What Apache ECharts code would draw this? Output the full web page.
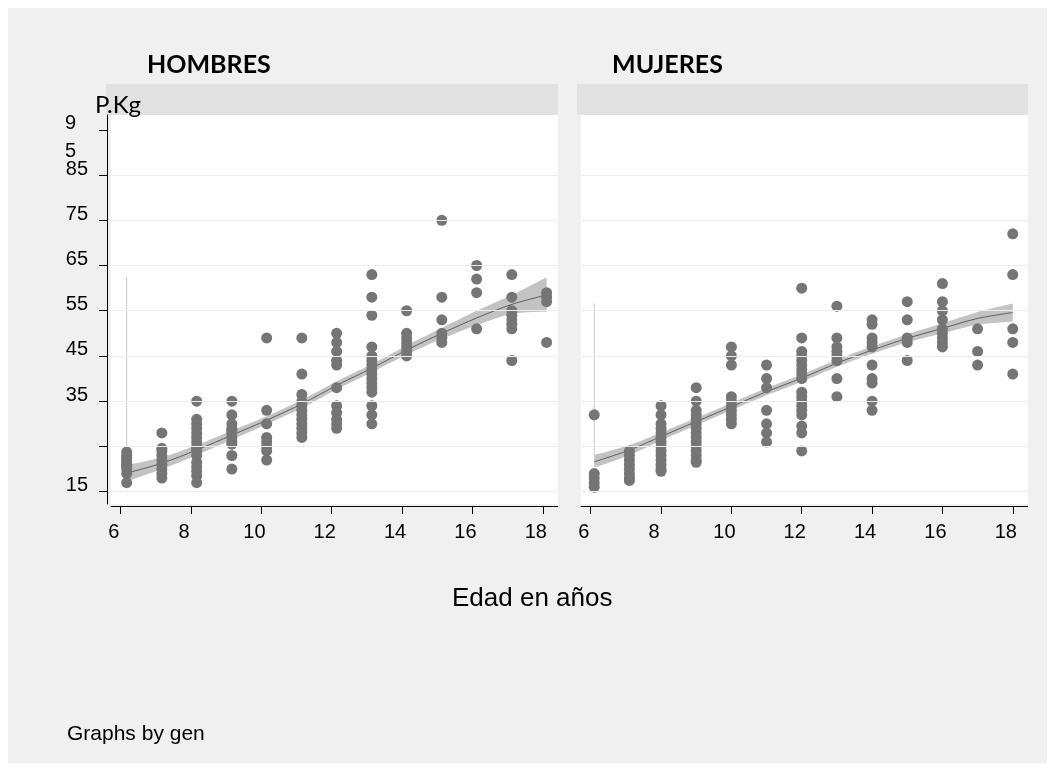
<!DOCTYPE html>
<html>
<head>
<meta charset="utf-8">
<title>Peso por edad según sexo</title>
<script src="https://cdn.jsdelivr.net/npm/echarts@6/dist/echarts.min.js"></script>
<style>
  html, body { margin: 0; padding: 0; background: #ffffff; }
  #chart { width: 1055px; height: 771px; }
</style>
</head>
<body>
<div id="chart"></div>
<script>
// Axis ticks and labels
const xTicks = [6, 8, 10, 12, 14, 16, 18];
const yTicks = [15, 25, 35, 45, 55, 65, 75, 85, 95];
const yLabelValues = [15, 35, 45, 55, 65, 75, 85];
const yTopLabelValue = [95];
const yGridValues = [15, 25, 35, 45, 55, 65, 75, 85];

// HOMBRES: age of each column and the weights (kg) observed at that age
const hombresEdad = [6.17, 7.17, 8.16, 9.16, 10.15, 11.15, 12.14, 13.14, 14.13, 15.13, 16.12, 17.12, 18.11];
const hombresPeso = [
  [17, 19, 20, 20.5, 21, 21.5, 22, 22.5, 23, 23.8],
  [18, 19, 20, 21, 22, 23, 24, 24.6, 28],
  [35, 31, 30, 29, 28, 27, 26, 25, 24.5, 24, 23, 21.5, 20.5, 19.5, 18.5, 17],
  [35, 32, 30, 29, 28.5, 28, 27, 26, 25.5, 23, 20],
  [49, 33, 30, 27, 26, 25, 24, 22],
  [49, 41, 36.5, 35, 34, 33, 32, 31, 30, 29, 28, 27],
  [50, 48, 46, 44, 43, 38, 34, 32.5, 31, 30, 29],
  [63, 58, 54, 47, 45, 44, 43, 42, 41, 40, 39, 38, 37, 34, 32, 30],
  [55, 50, 49, 48, 47, 46, 45],
  [75, 58, 53, 50, 49, 48],
  [65, 62, 59, 51],
  [63, 58, 55, 54, 53, 52, 51, 44],
  [59, 58, 57, 48]
];
// HOMBRES: local polynomial fit and its confidence band
const hombresAjuste = [19.1, 21.3, 24.2, 27.5, 30.8, 34.4, 38.5, 42.3, 46.3, 50.0, 53.4, 56.4, 58.5];
const hombresIcBajo = [17.3, 20.0, 23.1, 26.5, 29.9, 33.5, 37.6, 41.4, 45.3, 48.8, 51.8, 54.3, 54.8];
const hombresIcAlto = [20.9, 22.6, 25.3, 28.5, 31.7, 35.3, 39.4, 43.2, 47.3, 51.2, 55.0, 58.5, 62.4];
const hombresLineaIc = [20.9, 62.4];

// MUJERES
const mujeresEdad = [6.1, 7.1, 8, 9, 10, 11, 12, 13, 14, 15, 16, 17, 18];
const mujeresPeso = [
  [32, 19, 18, 17, 16],
  [24, 23, 22, 21, 20, 19, 18, 17.5],
  [34, 32, 30, 29, 28, 27, 26, 25, 24, 23, 22, 21, 20, 19.5],
  [38, 35, 33, 32, 31, 30, 29, 28, 27, 26, 25, 24, 23, 22, 21.5],
  [47, 45, 43, 36, 35, 34, 33, 32, 31, 30],
  [43, 40, 38, 33, 30, 28, 26],
  [60, 49, 46, 45, 44, 43, 42, 41, 40, 37, 36, 35, 34, 33, 32, 29.5, 28, 24],
  [56, 49, 47, 46, 45, 44, 40, 36],
  [53, 52, 49, 48, 47, 43, 40, 39, 35, 33],
  [57, 53, 49, 48, 44],
  [61, 57, 55, 53, 51, 50, 49, 48, 47],
  [51, 46, 43],
  [72, 63, 51, 48, 41]
];
const mujeresAjuste = [21.6, 24.2, 27.2, 30.5, 33.8, 37.1, 40.1, 43.4, 46.3, 48.9, 51.1, 53.3, 54.6];
const mujeresIcBajo = [20.3, 23.1, 26.3, 29.7, 33.0, 36.3, 39.3, 42.6, 45.5, 48.0, 50.0, 51.9, 52.6];
const mujeresIcAlto = [23.1, 25.3, 28.1, 31.3, 34.6, 37.9, 40.9, 44.2, 47.1, 49.8, 52.2, 54.7, 56.6];
const mujeresLineaIc = [23.1, 56.6];

const panelTitles = ['HOMBRES', 'MUJERES'];
const yTitle = 'P.Kg';
const xTitle = 'Edad en años';
const note = 'Graphs by gen';

// Axis ranges of the plot regions
const X_MIN = 5.724, X_MAX = 18.425;
const Y_MIN = 12.28, Y_MAX = 98.27;

const FONT = "'Liberation Sans', Arial, sans-serif";
const TITLE_FONT = "Lato, 'Open Sans', sans-serif";
const INK = '#000000';
const DOT = '#757575';
const FIT = '#5c5c5c';
const BAND = '#c3c3c3';

function points(edades, pesos) {
  const out = [];
  edades.forEach((x, i) => pesos[i].forEach(y => out.push([x, y])));
  return out;
}
function pairs(xs, ys) { return xs.map((x, i) => [x, ys[i]]); }

// Catmull-Rom pass over pixel points so the band edges are drawn as smooth curves
function smoothPath(pts, steps) {
  const out = [];
  for (let i = 0; i < pts.length - 1; i++) {
    const p0 = pts[Math.max(i - 1, 0)], p1 = pts[i], p2 = pts[i + 1], p3 = pts[Math.min(i + 2, pts.length - 1)];
    for (let s = 0; s < steps; s++) {
      const t = s / steps, t2 = t * t, t3 = t2 * t;
      const f = (a, b, c, d) => 0.5 * ((2 * b) + (-a + c) * t + (2 * a - 5 * b + 4 * c - d) * t2 + (-a + 3 * b - 3 * c + d) * t3);
      out.push([f(p0[0], p1[0], p2[0], p3[0]), f(p0[1], p1[1], p2[1], p3[1])]);
    }
  }
  out.push(pts[pts.length - 1]);
  return out;
}

function panelSeries(idx, edades, pesos, ajuste, lo, hi, lineaIc) {
  return [
    {
      // horizontal grid lines
      type: 'line', xAxisIndex: idx, yAxisIndex: idx, z: 1, data: [],
      symbol: 'none', silent: true,
      markLine: {
        silent: true, symbol: 'none', label: { show: false }, animation: false,
        lineStyle: { color: '#ececec', width: 1, type: 'solid' },
        data: yGridValues.map(v => ({ yAxis: v }))
      }
    },
    {
      // confidence band
      type: 'custom', xAxisIndex: idx, yAxisIndex: idx, z: 2, silent: true,
      data: edades.map((x, i) => [x, lo[i], hi[i]]),
      encode: { x: 0, y: [1, 2] },
      renderItem: function (params, api) {
        if (params.dataIndex !== 0) return null;
        const top = smoothPath(edades.map((x, i) => api.coord([x, hi[i]])), 8);
        const bottom = smoothPath(edades.map((x, i) => api.coord([x, lo[i]])), 8).reverse();
        return { type: 'polygon', shape: { points: top.concat(bottom) }, style: { fill: BAND } };
      }
    },
    {
      type: 'line', xAxisIndex: idx, yAxisIndex: idx, z: 2,
      data: [[edades[0], lineaIc[0]], [edades[0], lineaIc[1]]],
      symbol: 'none', silent: true,
      lineStyle: { color: '#c8c8c8', width: 1 }
    },
    {
      type: 'line', xAxisIndex: idx, yAxisIndex: idx, z: 3,
      data: pairs(edades, ajuste), smooth: 0.3,
      symbol: 'none', silent: true,
      lineStyle: { color: FIT, width: 1 }
    },
    {
      type: 'scatter', xAxisIndex: idx, yAxisIndex: idx, z: 4,
      data: points(edades, pesos),
      symbol: 'circle', symbolSize: 11,
      itemStyle: { color: DOT, opacity: 1 }
    }
  ];
}

function xAxisFor(idx) {
  return {
    type: 'value', gridIndex: idx, min: X_MIN, max: X_MAX, offset: 2,
    axisLine: { show: true, onZero: false, lineStyle: { color: INK, width: 1 } },
    axisTick: { show: true, customValues: xTicks, length: 8, lineStyle: { color: INK, width: 1 } },
    axisLabel: {
      show: true, customValues: xTicks, margin: 16, padding: [0, 14, 0, 0],
      fontFamily: FONT, fontSize: 20, color: INK
    },
    splitLine: { show: false }
  };
}

const labelRich = {
  d: { fontFamily: FONT, fontSize: 20, color: INK, lineHeight: 28 }
};

const yAxes = [
  {
    type: 'value', gridIndex: 0, min: Y_MIN, max: Y_MAX, offset: 4,
    axisLine: { show: true, onZero: false, lineStyle: { color: INK, width: 1 } },
    axisTick: { show: true, customValues: yTicks, length: 8, lineStyle: { color: INK, width: 1 } },
    axisLabel: {
      show: true, customValues: yLabelValues, margin: 19,
      padding: [0, 0, 12, 0], lineHeight: 28,
      fontFamily: FONT, fontSize: 20, color: INK,
      formatter: v => String(v),
      rich: labelRich
    },
    splitLine: { show: false }
  },
  {
    type: 'value', gridIndex: 1, min: Y_MIN, max: Y_MAX,
    axisLine: { show: false }, axisTick: { show: false },
    axisLabel: { show: false }, splitLine: { show: false }
  },
  {
    // the top label wraps onto two lines below its tick
    type: 'value', gridIndex: 0, min: Y_MIN, max: Y_MAX, offset: 4, position: 'left',
    axisLine: { show: false }, axisTick: { show: false }, splitLine: { show: false },
    axisLabel: {
      show: true, customValues: yTopLabelValue, margin: 19,
      padding: [16, 12, 0, 0], lineHeight: 28,
      fontFamily: FONT, fontSize: 20, color: INK,
      formatter: v => String(v).split('').map(c => '{d|' + c + '}').join('\n'),
      rich: labelRich
    }
  }
];

const option = {
  animation: false,
  backgroundColor: '#ffffff',
  graphic: [
    { type: 'rect', z: -10, silent: true, shape: { x: 8, y: 8, width: 1039, height: 755 }, style: { fill: '#f0f0f0' } },
    { type: 'rect', z: -5, silent: true, shape: { x: 106, y: 84, width: 452, height: 31 }, style: { fill: '#e1e1e1' } },
    { type: 'rect', z: -5, silent: true, shape: { x: 577, y: 84, width: 451, height: 31 }, style: { fill: '#e1e1e1' } }
  ],
  title: [
    { text: panelTitles[0], left: 147, top: 52, padding: 0,
      textStyle: { fontFamily: TITLE_FONT, fontSize: 25, fontWeight: 'bold', color: INK } },
    { text: panelTitles[1], left: 612, top: 52, padding: 0,
      textStyle: { fontFamily: TITLE_FONT, fontSize: 25, fontWeight: 'bold', color: INK } },
    { text: yTitle, left: 95, top: 93, padding: 0,
      textStyle: { fontFamily: TITLE_FONT, fontSize: 24, fontWeight: 'normal', color: INK } },
    { text: xTitle, left: 452, top: 586, padding: 0,
      textStyle: { fontFamily: FONT, fontSize: 26, fontWeight: 'normal', color: INK } },
    { text: note, left: 67, top: 724, padding: 0,
      textStyle: { fontFamily: FONT, fontSize: 21, fontWeight: 'normal', color: INK } }
  ],
  grid: [
    { left: 111, top: 115, width: 446.7, height: 389, show: true, backgroundColor: '#ffffff', borderWidth: 0 },
    { left: 581, top: 115, width: 446.7, height: 389, show: true, backgroundColor: '#ffffff', borderWidth: 0 }
  ],
  xAxis: [xAxisFor(0), xAxisFor(1)],
  yAxis: yAxes,
  series: [
    ...panelSeries(0, hombresEdad, hombresPeso, hombresAjuste, hombresIcBajo, hombresIcAlto, hombresLineaIc),
    ...panelSeries(1, mujeresEdad, mujeresPeso, mujeresAjuste, mujeresIcBajo, mujeresIcAlto, mujeresLineaIc)
  ]
};

const chart = echarts.init(document.getElementById('chart'), null, { renderer: 'canvas' });
chart.setOption(option);
</script>
</body>
</html>
